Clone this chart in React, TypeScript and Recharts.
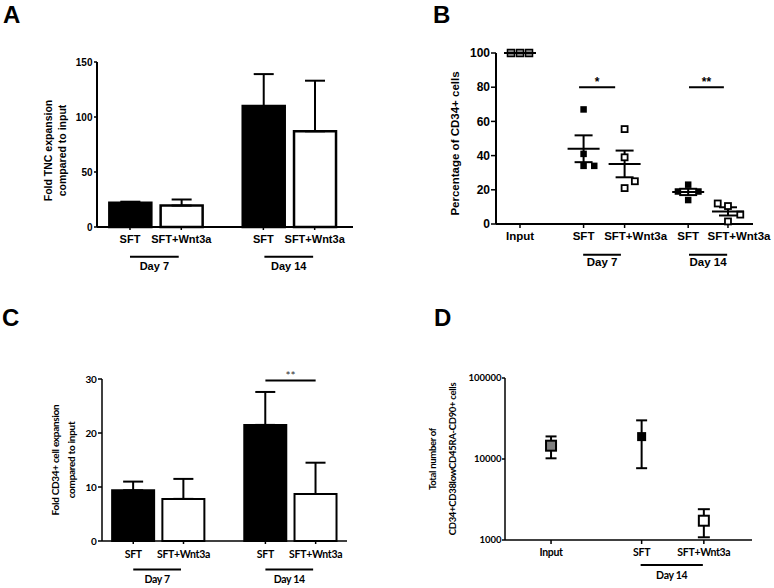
import React from 'react';
import { ComposedChart, Bar, Cell, XAxis, YAxis, ErrorBar, ReferenceLine, Scatter } from 'recharts';

const W = 774;
const H = 588;
const ARIAL = '"Liberation Sans", Arial, sans-serif';
const CAL = 'Lato, "Open Sans", sans-serif';

// ---------------- Data ----------------
// Panel A: fold TNC expansion
const barLabels = ['SFT', 'SFT+Wnt3a', 'SFT', 'SFT+Wnt3a'];
const barTreatments = ['SFT', 'Wnt3a', 'SFT', 'Wnt3a'];
const tncMean = [22, 19.5, 110, 87];
const tncUpper = [23, 25, 139, 133];

// Panel C: fold CD34+ expansion
const cd34Mean = [9.4, 7.8, 21.5, 8.7];
const cd34Upper = [11, 11.5, 27.6, 14.5];

// Panel B: percentage CD34+ cells (individual donors)
const pctCategories = ['Input', 'SFT', 'SFT+Wnt3a', 'SFT', 'SFT+Wnt3a'];
const pctInput = [100, 100, 100];
const pctSft7 = [67, 41, 34, 34];
const pctWnt7 = [55.5, 39, 21, 25];
const pctSft14 = [23, 19, 19, 14];
const pctWnt14 = [12, 10.5, 5.5, 1.5];

// Panel D: total CD34+CD38lowCD45RA-CD90+ cells
const dCategories = ['Input', 'SFT', 'SFT+Wnt3a'];
const dMean = [14600, 18900, 1730];
const dLow = [10200, 7700, 1080];
const dHigh = [19000, 30000, 2400];

const yTicksA = [0, 50, 100, 150];
const yTicksB = [0, 20, 40, 60, 80, 100];
const yTicksC = [0, 10, 20, 30];
const yTicksD = [1000, 10000, 100000];

// ---------------- Layout (positions on the x axes) ----------------
const A_SLOTS = [1, 2, 3.6, 4.6];
const A_DOMAIN = [0.357, 5.347];
const C_SLOTS = [1, 2, 3.63, 4.63];
const C_DOMAIN = [0.378, 5.254];
const B_SLOTS = [0, 1.55, 2.55, 4.1, 5.07];
const B_DOMAIN = [-0.585, 5.68];
const B_JITTER = [
  [-0.22, 0, 0.22],
  [0, 0, 0, 0.26],
  [0, 0, 0, 0.25],
  [0, -0.25, 0.25, 0],
  [-0.25, 0, 0.3, 0],
];
const D_SLOTS = [0, 1.456, 2.456];
const D_DOMAIN = [-0.74, 3.23];

const findIdx = (slots: number[], v: number) => slots.findIndex((s) => Math.abs(s - v) < 1e-6);

const mean = (a: number[]) => a.reduce((s, v) => s + v, 0) / a.length;
const sem = (a: number[]) => {
  const m = mean(a);
  const v = a.reduce((s, x) => s + (x - m) * (x - m), 0) / (a.length - 1);
  return Math.sqrt(v) / Math.sqrt(a.length);
};

// ---------------- Helpers ----------------
function RotatedLabel(props: any) {
  const { viewBox, lines, gaps, style, shiftY = 0 } = props;
  const vb = viewBox || {};
  const axisX = (vb.x ?? 0) + (vb.width ?? 0);
  const cy = (vb.y ?? 0) + (vb.height ?? 0) / 2 + shiftY;
  return (
    <g>
      {lines.map((t: string, i: number) => {
        const x = axisX - gaps[i];
        return (
          <text key={i} x={x} y={cy} dy="0.35em" textAnchor="middle" transform={`rotate(-90 ${x} ${cy})`} fill="#000" {...style}>
            {t}
          </text>
        );
      })}
    </g>
  );
}

const layerStyle: React.CSSProperties = { position: 'absolute', left: 0, top: 0 };

// ---------------- Panel A / C (bars) ----------------
function BarPanel(props: any) {
  const data = props.means.map((m: number, i: number) => ({
    slot: props.slots[i],
    value: m,
    treatment: barTreatments[i],
    err: [0, props.uppers[i] - m],
  }));
  const fmt = (v: number) => barLabels[findIdx(props.slots, v)] ?? '';
  const txt = { fill: '#000', fontFamily: props.font, letterSpacing: props.spacing };
  return (
    <div style={layerStyle}>
      <ComposedChart width={W} height={H} data={data} margin={props.margin}>
        <XAxis
          type="number"
          dataKey="slot"
          domain={props.domain}
          allowDataOverflow
          ticks={props.slots}
          interval={0}
          tickFormatter={fmt}
          height={30}
          tickSize={3}
          tickMargin={props.xTickMargin}
          axisLine={{ stroke: '#000', strokeWidth: props.axisWidth }}
          tickLine={{ stroke: '#000', strokeWidth: 1.5 }}
          tick={{ ...txt, fontSize: props.catFont, fontWeight: props.catWeight }}
        />
        <YAxis
          type="number"
          domain={props.yDomain}
          ticks={props.yTicks}
          interval={0}
          width={45}
          tickSize={props.yTickSize}
          tickMargin={1.5}
          axisLine={{ stroke: '#000', strokeWidth: props.axisWidth }}
          tickLine={{ stroke: '#000', strokeWidth: 1.5 }}
          tick={{ ...txt, fontSize: props.tickFont, fontWeight: 'bold' }}
          label={(p: any) => (
            <RotatedLabel
              {...p}
              lines={props.labelLines}
              gaps={props.labelGaps}
              shiftY={props.labelShift}
              style={{ fontFamily: props.font, fontSize: props.labelFont, fontWeight: props.labelWeight, letterSpacing: props.spacing }}
            />
          )}
        />
        <Bar dataKey="value" barSize={42} isAnimationActive={false} stroke="#000" strokeWidth={props.barStroke}>
          {data.map((d: any, i: number) => (
            <Cell key={i} fill={d.treatment === 'SFT' ? '#000' : '#fff'} />
          ))}
          <ErrorBar dataKey="err" direction="y" width={props.errWidth} stroke="#000" strokeWidth={2} />
        </Bar>
        {props.daySegs.map((s: number[], i: number) => (
          <ReferenceLine
            key={'d' + i}
            segment={[
              { x: s[0], y: props.dayY },
              { x: s[1], y: props.dayY },
            ]}
            ifOverflow="visible"
            stroke="#000"
            strokeWidth={2}
            label={{
              value: i === 0 ? 'Day 7' : 'Day 14',
              position: 'bottom',
              offset: props.dayOffset,
              fill: '#000',
              fontSize: props.catFont,
              fontWeight: props.catWeight,
              fontFamily: props.font,
              letterSpacing: props.spacing,
            }}
          />
        ))}
        {props.sig && (
          <ReferenceLine
            segment={[
              { x: props.sig.x[0], y: props.sig.y },
              { x: props.sig.x[1], y: props.sig.y },
            ]}
            ifOverflow="visible"
            stroke="#000"
            strokeWidth={2}
            label={{ value: props.sig.text, position: 'top', offset: 1, fill: '#333', fontSize: 12, fontFamily: props.font }}
          />
        )}
      </ComposedChart>
    </div>
  );
}

// ---------------- Panel B (scatter) ----------------
const bGroups = [pctInput, pctSft7, pctWnt7, pctSft14, pctWnt14];
const bPoints = bGroups.map((g, gi) => g.map((v, j) => ({ x: B_SLOTS[gi] + B_JITTER[gi][j], y: v })));
const bInputPts = bPoints[0];
const bFilledPts = [...bPoints[1], ...bPoints[3]];
const bOpenPts = [...bPoints[2], ...bPoints[4]];
const bMeans = bGroups.map((g, gi) => ({ x: B_SLOTS[gi], y: mean(g), sem: sem(g) }));

const square = (size: number, fill: string, sw: number) => (p: any) => (
  <rect x={p.cx - size / 2} y={p.cy - size / 2} width={size} height={size} fill={fill} stroke="#000" strokeWidth={sw} />
);
const meanLine = (p: any) => <line x1={p.cx - 16} x2={p.cx + 16} y1={p.cy} y2={p.cy} stroke="#000" strokeWidth={2} />;

const BTick = (p: any) => {
  const i = findIdx(B_SLOTS, p.payload.value);
  const label = pctCategories[i] ?? '';
  const shift = label === 'SFT+Wnt3a' ? 11 : 0;
  return (
    <text x={p.x + shift} y={p.y} dy="0.71em" textAnchor="middle" fill="#000" fontSize={11.5} fontWeight="bold" fontFamily={ARIAL}>
      {label}
    </text>
  );
};

function PanelB() {
  const dayLabel = (v: string) => ({
    value: v,
    position: 'bottom' as const,
    offset: 3,
    fill: '#000',
    fontSize: 11.5,
    fontWeight: 'bold',
    fontFamily: ARIAL,
  });
  const starLabel = (v: string) => ({
    value: v,
    position: 'top' as const,
    offset: 1,
    fill: '#000',
    fontSize: 12,
    fontWeight: 'bold',
    fontFamily: ARIAL,
  });
  return (
    <div style={layerStyle}>
      <ComposedChart width={W} height={H} margin={{ top: 53, right: 21, bottom: 334, left: 451 }}>
        <XAxis
          type="number"
          dataKey="x"
          domain={B_DOMAIN}
          allowDataOverflow
          ticks={B_SLOTS}
          interval={0}
          height={30}
          tickSize={4}
          tickMargin={4}
          axisLine={{ stroke: '#000', strokeWidth: 2 }}
          tickLine={{ stroke: '#000', strokeWidth: 1.5 }}
          tick={<BTick />}
        />
        <YAxis
          type="number"
          dataKey="y"
          domain={[0, 100]}
          ticks={yTicksB}
          interval={0}
          width={45}
          tickSize={5}
          tickMargin={1}
          axisLine={{ stroke: '#000', strokeWidth: 2 }}
          tickLine={{ stroke: '#000', strokeWidth: 1.5 }}
          tick={{ fill: '#000', fontFamily: ARIAL, fontSize: 12, fontWeight: 'bold' }}
          label={(p: any) => (
            <RotatedLabel
              {...p}
              lines={['Percentage of CD34+ cells']}
              gaps={[41]}
              shiftY={5}
              style={{ fontFamily: ARIAL, fontSize: 11.5, fontWeight: 'bold' }}
            />
          )}
        />
        <Scatter data={bInputPts} isAnimationActive={false} shape={square(7, '#8a8a8a', 1.5)} />
        <Scatter data={bFilledPts} isAnimationActive={false} shape={square(6.5, '#000', 0)} />
        <Scatter data={bOpenPts} isAnimationActive={false} shape={square(6, '#fff', 1.8)} />
        <Scatter data={bMeans} isAnimationActive={false} shape={meanLine}>
          <ErrorBar dataKey="sem" direction="y" width={9} stroke="#000" strokeWidth={2} />
        </Scatter>
        <ReferenceLine segment={[{ x: 1.44, y: 80 }, { x: 2.32, y: 80 }]} ifOverflow="visible" stroke="#000" strokeWidth={2} label={starLabel('*')} />
        <ReferenceLine segment={[{ x: 4.12, y: 80 }, { x: 4.97, y: 80 }]} ifOverflow="visible" stroke="#000" strokeWidth={2} label={starLabel('**')} />
        <ReferenceLine segment={[{ x: 1.54, y: -18 }, { x: 2.46, y: -18 }]} ifOverflow="visible" stroke="#000" strokeWidth={2} label={dayLabel('Day 7')} />
        <ReferenceLine segment={[{ x: 4.12, y: -18 }, { x: 5.05, y: -18 }]} ifOverflow="visible" stroke="#000" strokeWidth={2} label={dayLabel('Day 14')} />
      </ComposedChart>
    </div>
  );
}

// ---------------- Panel D (log scale) ----------------
const dData = dCategories.map((c, i) => ({ x: D_SLOTS[i], y: dMean[i], err: [dMean[i] - dLow[i], dHigh[i] - dMean[i]] }));

function PanelD() {
  const fmt = (v: number) => dCategories[findIdx(D_SLOTS, v)] ?? '';
  return (
    <div style={layerStyle}>
      <ComposedChart width={W} height={H} margin={{ top: 378, right: 22, bottom: 18, left: 455 }}>
        <XAxis
          type="number"
          dataKey="x"
          domain={D_DOMAIN}
          allowDataOverflow
          ticks={D_SLOTS}
          interval={0}
          tickFormatter={fmt}
          height={30}
          tickSize={4}
          tickMargin={5}
          axisLine={{ stroke: '#000', strokeWidth: 1.5 }}
          tickLine={{ stroke: '#000', strokeWidth: 1.5 }}
          tick={{ fill: '#000', fontFamily: CAL, fontSize: 10.5, fontWeight: 'bold', letterSpacing: -0.3 }}
        />
        <YAxis
          type="number"
          dataKey="y"
          scale="log"
          domain={[1000, 100000]}
          allowDataOverflow
          ticks={yTicksD}
          interval={0}
          width={50}
          tickSize={3}
          tickMargin={0.5}
          axisLine={{ stroke: '#000', strokeWidth: 1.5 }}
          tickLine={{ stroke: '#000', strokeWidth: 1.5 }}
          tick={{ fill: '#000', fontFamily: CAL, fontSize: 9.5, fontWeight: 'bold' }}
          label={(p: any) => (
            <RotatedLabel
              {...p}
              lines={['Total number of', 'CD34+CD38lowCD45RA-CD90+ cells']}
              gaps={[72, 52]}
              style={{ fontFamily: CAL, fontSize: 9.5, fontWeight: 'bold', letterSpacing: -0.3 }}
            />
          )}
        />
        <Scatter data={[dData[0]]} isAnimationActive={false} shape={square(10, '#7f7f7f', 2)}>
          <ErrorBar dataKey="err" direction="y" width={5.5} stroke="#000" strokeWidth={2} />
        </Scatter>
        <Scatter data={[dData[1]]} isAnimationActive={false} shape={square(9, '#000', 0)}>
          <ErrorBar dataKey="err" direction="y" width={5.5} stroke="#000" strokeWidth={2} />
        </Scatter>
        <Scatter data={[dData[2]]} isAnimationActive={false} shape={square(10, '#fff', 2)}>
          <ErrorBar dataKey="err" direction="y" width={6} stroke="#000" strokeWidth={2} />
        </Scatter>
        <ReferenceLine
          segment={[{ x: 1.44, y: 490 }, { x: 2.44, y: 490 }]}
          ifOverflow="visible"
          stroke="#000"
          strokeWidth={2}
          label={{ value: 'Day 14', position: 'bottom', offset: 6, fill: '#000', fontSize: 10.5, fontWeight: 'bold', fontFamily: CAL, letterSpacing: -0.3 }}
        />
      </ComposedChart>
    </div>
  );
}

export default function App() {
  return (
    <div style={{ position: 'absolute', left: 0, top: 0, width: W, height: H, background: '#fff', overflow: 'hidden' }}>
      <BarPanel
        means={tncMean}
        uppers={tncUpper}
        slots={A_SLOTS}
        domain={A_DOMAIN}
        yDomain={[0, 150]}
        yTicks={yTicksA}
        margin={{ top: 62, right: 421, bottom: 331, left: 52 }}
        font={ARIAL}
        spacing={0}
        tickFont={10}
        catFont={11}
        catWeight="bold"
        axisWidth={2}
        yTickSize={3}
        xTickMargin={5}
        labelLines={['Fold TNC expansion', 'compared to input']}
        labelGaps={[49, 35]}
        labelShift={6}
        labelFont={10.5}
        labelWeight="bold"
        dayY={-27}
        dayOffset={5}
        daySegs={[
          [A_SLOTS[0], A_SLOTS[1] - 0.05],
          [A_SLOTS[2] + 0.02, A_SLOTS[3] - 0.03],
        ]}
        errWidth={10}
        barStroke={2.5}
      />
      <PanelB />
      <BarPanel
        means={cd34Mean}
        uppers={cd34Upper}
        slots={C_SLOTS}
        domain={C_DOMAIN}
        yDomain={[0, 30]}
        yTicks={yTicksC}
        margin={{ top: 379, right: 427, bottom: 17, left: 57 }}
        font={CAL}
        spacing={-0.3}
        tickFont={10}
        catFont={10.5}
        catWeight="bold"
        axisWidth={1.5}
        yTickSize={4}
        xTickMargin={7}
        labelLines={['Fold CD34+ cell expansion', 'compared to input']}
        labelGaps={[47, 31]}
        labelShift={0}
        labelFont={10}
        labelWeight="bold"
        dayY={-5.3}
        dayOffset={6}
        daySegs={[
          [C_SLOTS[0], C_SLOTS[1] - 0.05],
          [C_SLOTS[2], C_SLOTS[3] - 0.05],
        ]}
        sig={{ x: [C_SLOTS[2], C_SLOTS[3]], y: 29.7, text: '**' }}
        errWidth={10}
        barStroke={2}
      />
      <PanelD />
      <svg width={W} height={H} style={{ position: 'absolute', left: 0, top: 0, pointerEvents: 'none' }}>
        <g fontFamily={ARIAL} fontWeight="bold" fontSize={24} fill="#000">
          <text x={3} y={23}>A</text>
          <text x={433} y={23}>B</text>
          <text x={2} y={326}>C</text>
          <text x={434} y={326}>D</text>
        </g>
      </svg>
    </div>
  );
}
